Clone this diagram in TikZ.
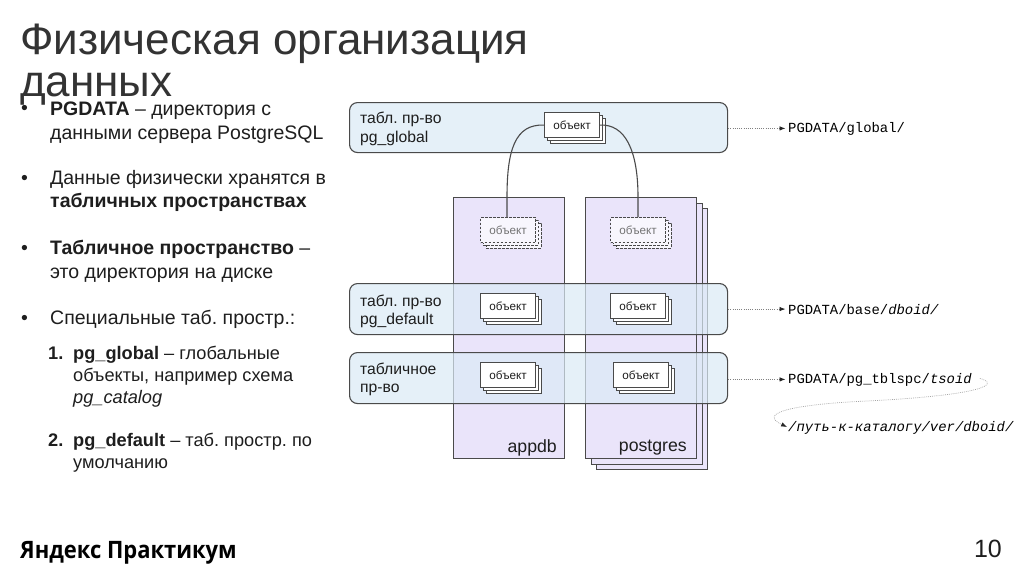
\documentclass[tikz,border=0pt]{standalone}
\usepackage{fontspec}
\setmainfont{Liberation Sans}
\setmonofont{Liberation Mono}
\newfontfamily\logofont{Open Sans}
\usetikzlibrary{arrows.meta,calc}
\definecolor{dbfill}{HTML}{EAE4FA}
\definecolor{bandfill}{HTML}{DBEAF6}
\definecolor{linecol}{HTML}{4A4A4A}
\definecolor{txt}{HTML}{1E1E1E}
\definecolor{title}{HTML}{333333}
\newcommand{\fs}[1]{\fontsize{#1pt}{#1pt}\selectfont}
\frenchspacing
\tikzset{
  x=1pt,y=-1pt,
  band/.style={draw=linecol,line width=1.1pt,fill=bandfill,fill opacity=.7,rounded corners=8pt,anchor=north west,inner sep=0pt},
  dbbox/.style={draw=linecol,line width=1.1pt,fill=dbfill,anchor=north west,inner sep=0pt},
  sheet/.style={draw=linecol,line width=1.1pt,fill=white,minimum width=55pt,minimum height=25pt,inner sep=0pt,text=txt,font=\fs{11.7}},
  ghost/.style={sheet,dashed,dash pattern=on 2.6pt off 1.4pt,text=black!55,fill=dbfill!35!white},
  body/.style={anchor=base west,inner sep=0pt,text=txt,align=left},
  label/.style={anchor=base west,inner sep=0pt,text=txt,font=\fs{15.7}},
  path/.style={anchor=base west,inner sep=0pt,text=black,font=\ttfamily\fs{13.9}},
  link/.style={draw=linecol,line width=1.1pt},
  dots/.style={draw=black!50,line width=0.8pt,dash pattern=on 1pt off 1.2pt,-{Latex[length=6pt,width=4.5pt,black!85]}},
  wisp/.style={draw=black!35,line width=0.7pt,dash pattern=on .8pt off 1.1pt,-{Latex[length=6pt,width=4.5pt,black!85]}},
}
% \objstack{name}{left}{top}{style}
\newcommand{\objstack}[4]{%
  \node[#4,anchor=north west,text opacity=0] (#1c) at (#2+5.5,#3+5.5) {};
  \node[#4,anchor=north west,text opacity=0] (#1b) at (#2+2.8,#3+2.8) {};
  \node[#4,anchor=north west] (#1) at (#2,#3) {объект};
}
\begin{document}
\begin{tikzpicture}
\useasboundingbox (0,0) rectangle (1024,574);
\fill[white] (0,0) rectangle (1024,574);

% title
\node[anchor=base west,inner sep=0pt,text=title,font=\fs{44}] (t1) at (20,54) {Физическая организация};
\node[anchor=base west,inner sep=0pt,text=title,font=\fs{44}] (t2) at (20,96) {данных};

% left text
\newcommand{\bl}[2]{\node[body,font=\fs{19.5}] (b#1) at (21,#2) {•};}
\bl{1}{114}\bl{2}{184}\bl{3}{254}\bl{4}{324}
\node[body,font=\fs{19.5}] (p1a) at (50,115) {\textbf{PGDATA} – директория с};
\node[body,font=\fs{19.5}] (p1b) at (50,139) {данными сервера PostgreSQL};
\node[body,font=\fs{19.5}] (p2a) at (50,184) {Данные физически хранятся в};
\node[body,font=\fs{19.5}] (p2b) at (50,207) {\textbf{табличных пространствах}};
\node[body,font=\fs{19.5}] (p3a) at (50,254) {\textbf{Табличное пространство} –};
\node[body,font=\fs{19.5}] (p3b) at (50,278) {это директория на диске};
\node[body,font=\fs{19.5}] (p4a) at (50,324) {Специальные таб. простр.:};
\node[body,font=\fs{18.2}] (n1) at (48,359) {\textbf{1.}};
\node[body,font=\fs{18.2}] (l1a) at (73,359) {\textbf{pg\_global} – глобальные};
\node[body,font=\fs{18.2}] (l1b) at (73,381) {объекты, например схема};
\node[body,font=\fs{18.2}] (l1c) at (73,403) {\textit{pg\_catalog}};
\node[body,font=\fs{18.2}] (n2) at (48,446) {\textbf{2.}};
\node[body,font=\fs{18.2}] (l2a) at (73,446) {\textbf{pg\_default} – таб. простр. по};
\node[body,font=\fs{18.2}] (l2b) at (73,468) {умолчанию};

% databases
\node[dbbox,minimum width=111pt,minimum height=261pt] (appdb) at (453,197) {};
\node[dbbox,minimum width=111pt,minimum height=261pt] (pg3) at (596,208) {};
\node[dbbox,minimum width=111pt,minimum height=261pt] (pg2) at (590.5,202.5) {};
\node[dbbox,minimum width=111pt,minimum height=261pt] (pg1) at (585,197) {};
\node[anchor=base east,inner sep=0pt,font=\fs{17.7},text=txt] (lapp) at (557,452) {appdb};
\node[anchor=base east,inner sep=0pt,font=\fs{17.7},text=txt] (lpg) at (687,451) {postgres};

% bands
\node[band,minimum width=378pt,minimum height=50pt] (global) at (349,102) {};
\node[band,minimum width=378pt,minimum height=51pt] (default) at (349,283) {};
\node[band,minimum width=378pt,minimum height=51pt] (tblsp) at (349,352) {};

\node[label] (gl1) at (360,123) {табл. пр-во};
\node[label] (gl2) at (360,142) {pg\_global};
\node[label] (dl1) at (360,306) {табл. пр-во};
\node[label] (dl2) at (360,324) {pg\_default};
\node[label] (tl1) at (360,374) {табличное};
\node[label] (tl2) at (360,392) {пр-во};

% objects
\objstack{og}{544}{112}{sheet}
\objstack{oa}{480}{217}{ghost}
\objstack{op}{610}{217}{ghost}
\objstack{da}{480}{293}{sheet}
\objstack{dp}{610}{293}{sheet}
\objstack{ta}{480}{362}{sheet}
\objstack{tp}{613}{362}{sheet}

% links
\draw[link] (og.west) .. controls (515,124) and (507,150) .. (507,197) -- (oa.north -| 507,0);
\draw[link] (og.east) .. controls (625,124) and (638,150) .. (638,197) -- (op.north -| 638,0);

% paths
\node[path] (p-g) at (788,132) {PGDATA/global/};
\node[path] (p-d) at (788,314) {PGDATA/base/\textit{dboid/}};
\node[path] (p-t) at (788,383) {PGDATA/pg\_tblspc/\textit{tsoid}};
\node[path] (p-v) at (788,431) {\textit{/путь-к-каталогу/ver/dboid/}};

\draw[dots,shorten >=2.5pt] (global.east |- p-g.west) -- (p-g.west);
\draw[dots,shorten >=2.5pt] (default.east |- p-d.west) -- (p-d.west);
\draw[dots,shorten >=2.5pt] (tblsp.east |- p-t.west) -- (p-t.west);
\draw[wisp,shorten >=1pt] (p-t.east) ++(8,-1) .. controls (1000,384) and (985,395) .. (867,401) .. controls (800,404) and (755,412) .. (p-v.west);

% footer
\node[anchor=base west,inner sep=0pt,font=\logofont\bfseries\fs{24},text=black,xscale=.915] (logo) at (20,558) {Яндекс Практикум};
\node[anchor=base east,inner sep=0pt,font=\fs{25},text=txt] (num) at (1002,557) {10};
\end{tikzpicture}
\end{document}
